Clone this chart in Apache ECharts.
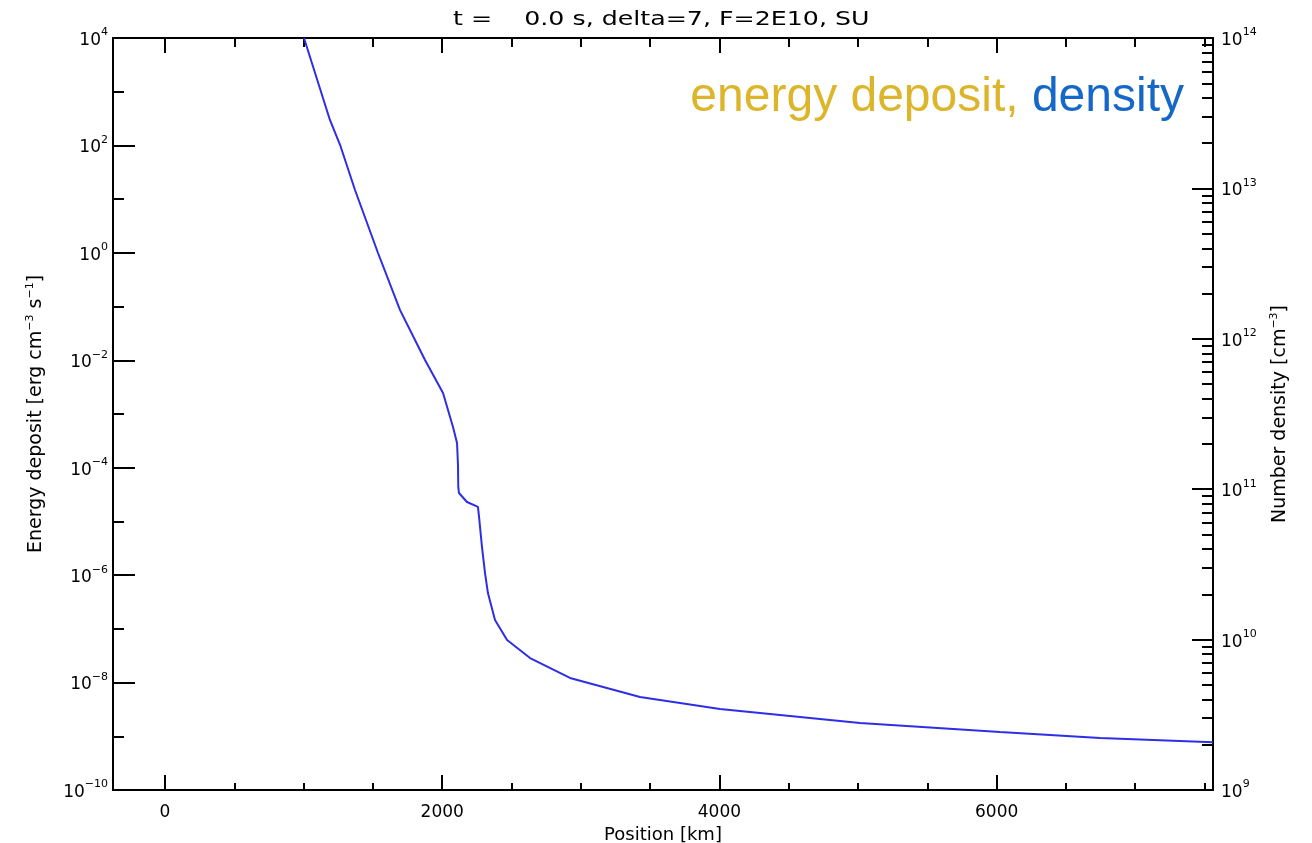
<!DOCTYPE html>
<html>
<head>
<meta charset="utf-8">
<script src="https://cdn.jsdelivr.net/npm/echarts@6/dist/echarts.min.js"></script>
<style>
  html, body { margin: 0; padding: 0; background: #fff; }
  #chart { width: 1312px; height: 843px; }
</style>
</head>
<body>
<div id="chart"></div>
<script>
// ---- data ----
const titleText = 't =    0.0 s, delta=7, F=2E10, SU';
const positionKm = [1003, 1190, 1263, 1371, 1537, 1696, 1876, 2006, 2078, 2107, 2114, 2116, 2121, 2179, 2258, 2266, 2287, 2309, 2330, 2381, 2468, 2634, 2922, 3427, 4004, 5014, 6024, 6746, 7561];
const density = [1.0e14, 2.85e13, 1.95e13, 9.76e12, 3.72e12, 1.55e12, 7.23e11, 4.36e11, 2.59e11, 2.03e11, 1.45e11, 1.035e11, 9.44e10, 8.22e10, 7.62e10, 6.53e10, 4.13e10, 2.77e10, 2.04e10, 1.35e10, 9.93e9, 7.54e9, 5.56e9, 4.15e9, 3.46e9, 2.79e9, 2.43e9, 2.22e9, 2.08e9];
const xMajorTicks = [0, 2000, 4000, 6000];
const xMinorTicks = [500, 1000, 1500, 2500, 3000, 3500, 4500, 5000, 5500, 6500, 7000, 7500];
const xRange = [-375, 7561];
const leftExpRange = [-10, 4];   // energy deposit, 10^-10 .. 10^4
const rightExpRange = [9, 14];   // number density, 10^9 .. 10^14

// ---- helpers ----
const FONT = 'DejaVu Sans';
const supStr = v => String(Math.round(v)).replace('-', '\u2212');
const powLabel = v => '{b|10}{s|' + supStr(v) + '}';
const richPow = {
  b: { fontSize: 17, fontFamily: FONT, color: '#000', lineHeight: 22, verticalAlign: 'bottom' },
  s: { fontSize: 11, fontFamily: FONT, color: '#000', lineHeight: 22, verticalAlign: 'top' }
};
const rightMinor = [];
for (let n = rightExpRange[0]; n < rightExpRange[1]; n++) {
  for (let k = 2; k <= 9; k++) rightMinor.push(n + Math.log10(k));
}

const lineCol = '#000';
const baseAxis = {
  type: 'value',
  splitLine: { show: false },
  axisLine: { show: false, onZero: false },
  axisLabel: { show: false },
  axisTick: { show: false }
};
const nameRich = { s: { fontSize: 11, fontFamily: FONT, color: '#000', verticalAlign: 'top', lineHeight: 22 } };

const option = {
  animation: false,
  backgroundColor: '#fff',
  grid: { left: 113, right: 99, top: 38, bottom: 53, containLabel: false, outerBoundsMode: 'none' },
  xAxis: [
    Object.assign({}, baseAxis, {
      position: 'bottom', min: xRange[0], max: xRange[1],
      axisLine: { show: true, onZero: false, lineStyle: { color: lineCol, width: 2 } },
      axisTick: { show: true, inside: true, length: 15, customValues: xMajorTicks, lineStyle: { color: lineCol, width: 2 } },
      axisLabel: { show: true, customValues: xMajorTicks, formatter: v => String(v), margin: 14, fontSize: 17, fontFamily: FONT, color: '#000' },
      name: 'Position [km]', nameLocation: 'middle', nameGap: 31,
      nameTextStyle: { fontSize: 18, fontFamily: FONT, color: '#000' }
    }),
    Object.assign({}, baseAxis, {
      position: 'bottom', min: xRange[0], max: xRange[1],
      axisTick: { show: true, inside: true, length: 7, customValues: xMinorTicks, lineStyle: { color: lineCol, width: 2 } }
    }),
    Object.assign({}, baseAxis, {
      position: 'top', min: xRange[0], max: xRange[1],
      axisLine: { show: true, onZero: false, lineStyle: { color: lineCol, width: 2 } },
      axisTick: { show: true, inside: true, length: 15, customValues: xMajorTicks, lineStyle: { color: lineCol, width: 2 } }
    }),
    Object.assign({}, baseAxis, {
      position: 'top', min: xRange[0], max: xRange[1],
      axisTick: { show: true, inside: true, length: 9, customValues: xMinorTicks, lineStyle: { color: lineCol, width: 2 } }
    })
  ],
  yAxis: [
    Object.assign({}, baseAxis, {
      position: 'left', min: leftExpRange[0], max: leftExpRange[1], interval: 2,
      axisLine: { show: true, onZero: false, lineStyle: { color: lineCol, width: 2 } },
      axisTick: { show: true, inside: true, length: 22, lineStyle: { color: lineCol, width: 2 } },
      axisLabel: { show: true, margin: 5, formatter: powLabel, rich: richPow },
      name: 'Energy deposit [erg cm{s|\u22123} s{s|\u22121}]',
      nameLocation: 'middle', nameGap: 66, nameRotate: 90,
      nameTextStyle: { fontSize: 19, fontFamily: FONT, color: '#000', rich: nameRich }
    }),
    Object.assign({}, baseAxis, {
      position: 'left', min: leftExpRange[0], max: leftExpRange[1], interval: 1,
      axisTick: { show: true, inside: true, length: 11, lineStyle: { color: lineCol, width: 2 } }
    }),
    Object.assign({}, baseAxis, {
      position: 'right', min: rightExpRange[0], max: rightExpRange[1], interval: 1,
      axisLine: { show: true, onZero: false, lineStyle: { color: lineCol, width: 2 } },
      axisTick: { show: true, inside: true, length: 21, lineStyle: { color: lineCol, width: 2 } },
      axisLabel: { show: true, margin: 8, formatter: powLabel, rich: richPow },
      name: 'Number density [cm{s|\u22123}]',
      nameLocation: 'middle', nameGap: 56, nameRotate: 90,
      nameTextStyle: { fontSize: 19, fontFamily: FONT, color: '#000', rich: nameRich }
    }),
    Object.assign({}, baseAxis, {
      position: 'right', min: rightExpRange[0], max: rightExpRange[1],
      axisTick: { show: true, inside: true, length: 11, customValues: rightMinor, lineStyle: { color: lineCol, width: 2 } }
    })
  ],
  graphic: [
    {
      type: 'text', left: 453, top: 11, scaleX: 1.33,
      style: { text: titleText, fontSize: 19, fontFamily: FONT, fill: '#000' }
    },
    {
      type: 'text', right: 128, top: 74,
      style: {
        text: '{g|energy deposit, }{d|density}',
        rich: {
          g: { fontSize: 48, fontFamily: 'Liberation Sans', fill: '#DDB52A' },
          d: { fontSize: 48, fontFamily: 'Liberation Sans', fill: '#1668C8' }
        }
      }
    }
  ],
  series: [
    {
      type: 'line',
      xAxisIndex: 0, yAxisIndex: 2,
      data: positionKm.map((x, i) => [x, Math.log10(density[i])]),
      showSymbol: false, symbol: 'none',
      lineStyle: { color: '#2e2ee6', width: 2 },
      clip: true
    }
  ]
};

const chart = echarts.init(document.getElementById('chart'), null, { renderer: 'canvas' });
chart.setOption(option);
</script>
</body>
</html>
